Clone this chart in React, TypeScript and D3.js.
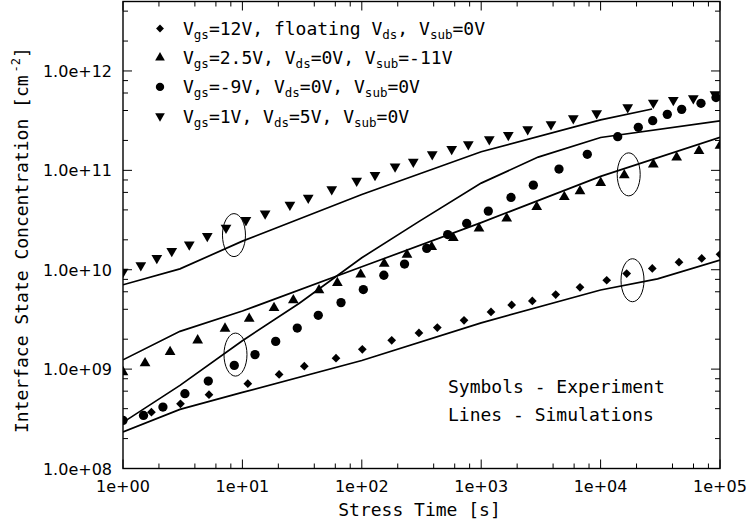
import React from "react";
import * as d3 from "d3";

// ---- data ----
const diamondT = [1, 1.73, 3.03, 5.25, 11.1, 20.3, 33, 60.8, 101, 178, 301, 429, 718, 1208, 1800, 2680, 4207, 6720, 11250, 16540, 27100, 45360, 70270, 100000];
const diamondV = [3.05e8, 3.69e8, 4.47e8, 5.53e8, 7.13e8, 8.85e8, 1.07e9, 1.29e9, 1.58e9, 1.95e9, 2.31e9, 2.62e9, 3.1e9, 3.76e9, 4.42e9, 4.85e9, 5.62e9, 6.66e9, 7.84e9, 9.16e9, 1.03e10, 1.19e10, 1.3e10, 1.43e10];

const triangleT = [1, 1.53, 2.48, 4.22, 7.15, 11.4, 18.4, 26.7, 43.8, 62.4, 97.9, 154, 239, 385, 584, 958, 1636, 2917, 4966, 6720, 10020, 15790, 27630, 43360, 66700, 100000];
const triangleV = [9.34e8, 1.15e9, 1.49e9, 1.95e9, 2.56e9, 3.22e9, 4.12e9, 4.93e9, 6.22e9, 7.36e9, 8.95e9, 1.15e10, 1.42e10, 1.7e10, 2.09e10, 2.6e10, 3.28e10, 4.29e10, 5.41e10, 6.18e10, 7.49e10, 8.96e10, 1.15e11, 1.35e11, 1.57e11, 1.77e11];

const circleT = [1, 1.485, 2.16, 3.3, 5.18, 8.55, 12.75, 19.0, 28.8, 43.2, 67.0, 103, 153, 228, 350, 524, 756, 1147, 1777, 2732, 4483, 7738, 13910, 20690, 27320, 36200, 47760, 69300, 92600];
const circleV = [3.05e8, 3.42e8, 4.15e8, 5.66e8, 7.58e8, 1.09e9, 1.4e9, 1.9e9, 2.59e9, 3.48e9, 4.67e9, 6.32e9, 8.8e9, 1.14e10, 1.64e10, 2.26e10, 2.92e10, 3.89e10, 5.34e10, 7.1e10, 1.03e11, 1.45e11, 2.18e11, 2.71e11, 3.16e11, 3.66e11, 4.11e11, 4.73e11, 5.41e11];

const invT = [1, 1.41, 1.92, 2.56, 3.59, 5.08, 7.29, 10.7, 15.5, 25.0, 35.6, 56.0, 90.6, 129, 190, 270, 389, 566, 780, 1169, 1687, 2451, 3842, 5906, 9270, 16870, 27630, 40640, 59770, 90800];
const invV = [9.5e9, 1.11e10, 1.31e10, 1.54e10, 1.79e10, 2.18e10, 2.64e10, 3.15e10, 3.68e10, 4.5e10, 5.29e10, 6.43e10, 7.85e10, 8.96e10, 1.09e11, 1.22e11, 1.45e11, 1.64e11, 1.83e11, 2.05e11, 2.26e11, 2.59e11, 2.9e11, 3.34e11, 3.75e11, 4.31e11, 4.79e11, 5.1e11, 5.31e11, 5.82e11];

const sim1T = [1, 3, 10, 100, 1000, 10000, 30000, 100000];
const sim1V = [2.33e8, 3.93e8, 5.83e8, 1.22e9, 2.92e9, 6.25e9, 8.1e9, 1.25e10];
const sim2T = [1, 3, 10, 100, 1000, 10000, 100000];
const sim2V = [1.24e9, 2.4e9, 3.84e9, 1.07e10, 2.98e10, 8.69e10, 2.15e11];
const sim3T = [1, 3, 10, 30, 100, 300, 1000, 3000, 10000, 100000];
const sim3V = [2.91e8, 6.86e8, 1.93e9, 4.6e9, 1.32e10, 3.05e10, 7.44e10, 1.36e11, 2.14e11, 3.14e11];
const sim4T = [1, 3, 10, 100, 1000, 10000, 27000];
const sim4V = [7.06e9, 1.02e10, 1.94e10, 5.71e10, 1.54e11, 3.22e11, 4.14e11];

const ellipseT = [8.5, 8.75, 17190, 18500];
const ellipseV = [2.23e10, 1.4e9, 9.11e10, 7.84e9];

const xTickLabels = ["1e+00", "1e+01", "1e+02", "1e+03", "1e+04", "1e+05"];
const yTickLabels = ["1.0e+08", "1.0e+09", "1.0e+10", "1.0e+11", "1.0e+12"];

// legend rows: [main, sub, main, sub, main, sub, main]
const legendRows = [
  ["V", "gs", "=12V, floating V", "ds", ", V", "sub", "=0V"],
  ["V", "gs", "=2.5V, V", "ds", "=0V, V", "sub", "=-11V"],
  ["V", "gs", "=-9V, V", "ds", "=0V, V", "sub", "=0V"],
  ["V", "gs", "=1V, V", "ds", "=5V, V", "sub", "=0V"],
];
const legendShapes = ["diamond", "triangle", "circle", "inverted"];

const xLabel = "Stress Time [s]";
const yLabel = "Interface State Concentration [cm";
const noteLines = ["Symbols - Experiment", "Lines - Simulations"];

// ---- layout ----
const W = 750, H = 525;
const L = 123, R = 720, T = 1.5, B = 468.5;
const MONO = "'DejaVu Sans Mono', monospace";
const SANS = "'DejaVu Sans', sans-serif";

const x = d3.scaleLog().domain([1, 1e5]).range([L, R]);
const y = d3.scaleLog().domain([1e8, 5e12]).range([B, T]);

const symPath = (shape: string, scale = 1) => {
  if (shape === "diamond") return d3.symbol(d3.symbolSquare, 38 * scale * scale)() as string;
  if (shape === "circle") return d3.symbol(d3.symbolCircle, 68 * scale * scale)() as string;
  return d3.symbol(d3.symbolTriangle, 50 * scale * scale)() as string;
};
const symRot = (shape: string) => (shape === "diamond" ? 45 : shape === "inverted" ? 180 : 0);

const series = [
  { shape: "diamond", t: diamondT, v: diamondV },
  { shape: "triangle", t: triangleT, v: triangleV },
  { shape: "circle", t: circleT, v: circleV },
  { shape: "inverted", t: invT, v: invV },
];
const sims = [
  { t: sim1T, v: sim1V },
  { t: sim2T, v: sim2V },
  { t: sim3T, v: sim3V },
  { t: sim4T, v: sim4V },
];

const line = d3
  .line<[number, number]>()
  .x((d) => x(d[0]))
  .y((d) => y(d[1]));

function minorTicks(lo: number, hi: number) {
  const out: { v: number; major: boolean }[] = [];
  for (let e = Math.floor(Math.log10(lo)); e <= Math.ceil(Math.log10(hi)); e++) {
    for (const m of [1, 2, 4, 6, 8]) {
      const v = m * Math.pow(10, e);
      if (v >= lo * 0.999 && v <= hi * 1.001) out.push({ v, major: m === 1 });
    }
  }
  return out;
}

export default function App() {
  const xt = minorTicks(1, 1e5);
  const yt = minorTicks(1e8, 5e12);
  const MAJ = 9, MIN = 5;
  return (
    <svg width={W} height={H} style={{ position: "absolute", left: 0, top: 0, background: "#fff" }}>
      <defs>
        <clipPath id="plot">
          <rect x={L} y={T} width={R - L} height={B - T} />
        </clipPath>
      </defs>
      <rect x={0} y={0} width={W} height={H} fill="#fff" />

      {/* ticks */}
      <g stroke="#000" strokeWidth={1}>
        {xt.map((d, i) => {
          const px = x(d.v);
          const len = d.major ? MAJ : MIN;
          return (
            <g key={"xt" + i}>
              <line x1={px} x2={px} y1={B} y2={B - len} />
              <line x1={px} x2={px} y1={T} y2={T + len} />
            </g>
          );
        })}
        {yt.map((d, i) => {
          const py = y(d.v);
          const len = d.major ? MAJ : MIN;
          return (
            <g key={"yt" + i}>
              <line x1={L} x2={L + len} y1={py} y2={py} />
              <line x1={R} x2={R - len} y1={py} y2={py} />
            </g>
          );
        })}
      </g>

      {/* frame */}
      <rect x={L} y={T} width={R - L} height={B - T} fill="none" stroke="#000" strokeWidth={1.4} />

      {/* tick labels */}
      <g fontFamily={SANS} fontSize={16} fill="#000">
        {xTickLabels.map((s, i) => (
          <text key={s} x={x(Math.pow(10, i))} y={491.5} textAnchor="middle">
            {s}
          </text>
        ))}
        {yTickLabels.map((s, i) => (
          <text key={s} x={112} y={y(Math.pow(10, 8 + i)) + 6} textAnchor="end">
            {s}
          </text>
        ))}
      </g>

      {/* axis titles */}
      <text x={(L + R) / 2 - 2} y={516} textAnchor="middle" fontFamily={MONO} fontSize={18} fill="#000">
        {xLabel}
      </text>
      <text transform="translate(28,433) rotate(-90)" fontFamily={MONO} fontSize={18} fill="#000">
        {yLabel}
        <tspan dx={3} dy={-8} fontSize={12}>-2</tspan>
        <tspan dy={8}>]</tspan>
      </text>

      {/* simulations and experiment */}
      <g clipPath="url(#plot)">
        {sims.map((s, i) => (
          <path
            key={"sim" + i}
            d={line(s.t.map((t, j) => [t, s.v[j]] as [number, number])) as string}
            fill="none"
            stroke="#000"
            strokeWidth={1.7}
          />
        ))}
        {series.map((s) =>
          s.t.map((t, j) => (
            <path
              key={s.shape + j}
              d={symPath(s.shape)}
              transform={`translate(${x(t)},${y(s.v[j])}) rotate(${symRot(s.shape)})`}
              fill="#000"
            />
          ))
        )}
        {ellipseT.map((t, i) => (
          <ellipse key={"el" + i} cx={x(t)} cy={y(ellipseV[i])} rx={11.5} ry={21.5} fill="none" stroke="#000" strokeWidth={1} />
        ))}
      </g>

      {/* legend */}
      <g fontFamily={MONO} fontSize={18} fill="#000">
        {legendRows.map((row, i) => {
          const by = 35 + i * 29.2;
          return (
            <g key={"lg" + i}>
              <path
                d={symPath(legendShapes[i], 0.9)}
                transform={`translate(160,${by - 6.5}) rotate(${symRot(legendShapes[i])})`}
                fill="#000"
              />
              <text x={183} y={by}>
                {row.map((seg, k) =>
                  k % 2 === 1 ? (
                    <tspan key={k} fontSize={12.5} dy={4}>
                      {seg}
                    </tspan>
                  ) : (
                    <tspan key={k} dy={k === 0 ? 0 : -4}>
                      {seg}
                    </tspan>
                  )
                )}
              </text>
            </g>
          );
        })}
      </g>

      {/* note */}
      <g fontFamily={MONO} fontSize={18} fill="#000">
        {noteLines.map((s, i) => (
          <text key={s} x={448} y={393 + i * 28}>
            {s}
          </text>
        ))}
      </g>
    </svg>
  );
}
